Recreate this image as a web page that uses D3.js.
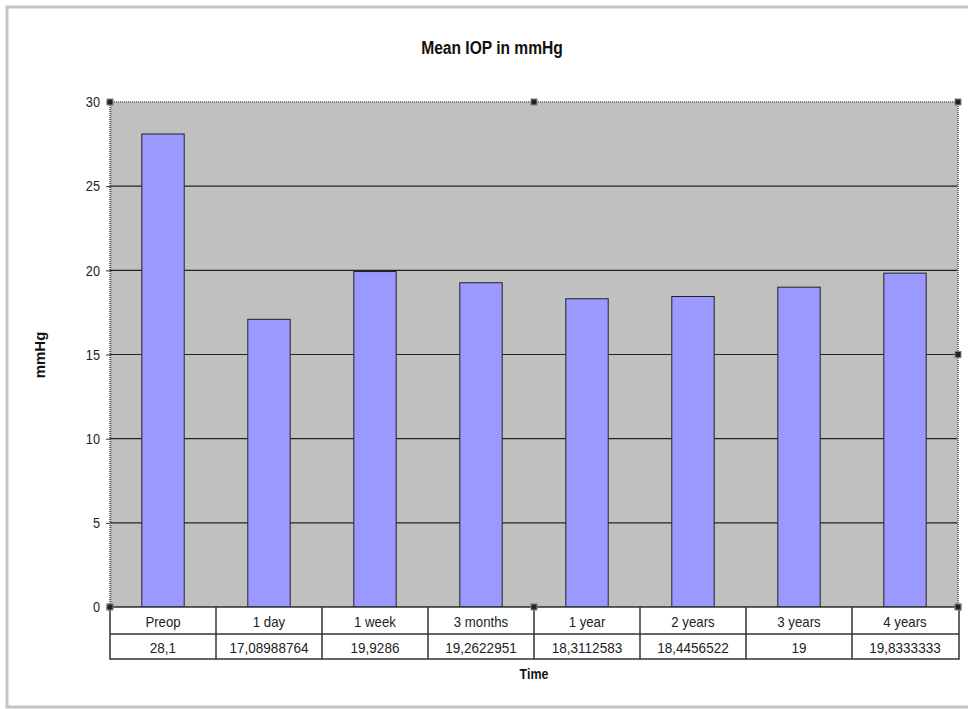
<!DOCTYPE html>
<html><head><meta charset="utf-8">
<script src="https://cdn.jsdelivr.net/npm/d3@7"></script>
<style>body{margin:0;background:#fff}svg{display:block}</style>
</head><body>
<svg id="c" width="968" height="709"></svg>
<script>
const categories = ["Preop","1 day","1 week","3 months","1 year","2 years","3 years","4 years"];
const values = [28.1, 17.08988764, 19.9286, 19.2622951, 18.3112583, 18.4456522, 19, 19.8333333];
const valueLabels = ["28,1","17,08988764","19,9286","19,2622951","18,3112583","18,4456522","19","19,8333333"];
const yTicks = [0,5,10,15,20,25,30];
const title = "Mean IOP in mmHg";
const yTitle = "mmHg";
const xTitle = "Time";

const svg = d3.select("#c");
const font = "'Liberation Sans', Arial, sans-serif";
const L = 110, R = 958, T = 102, B = 607;

function condense(sel, k) {
  sel.each(function() {
    const w = this.getComputedTextLength();
    d3.select(this).attr("textLength", w * k).attr("lengthAdjust", "spacingAndGlyphs");
  });
}

// outer frame
svg.append("path").attr("d","M968,7 H7 V707 H968")
  .attr("fill","none").attr("stroke","#c4c4c4").attr("stroke-width",3);

const x = d3.scaleBand().domain(categories).range([L,R]).paddingInner(0.6).paddingOuter(0.3);
const xc = d3.scaleBand().domain(categories).range([L,R]);
const y = d3.scaleLinear().domain([0,30]).range([B,T]);

svg.append("rect").attr("x",L).attr("y",T).attr("width",R-L).attr("height",B-T).attr("fill","#c0c0c0");

// gridlines
svg.append("g").selectAll("line").data(yTicks.filter(d=>d>0 && d<30)).join("line")
  .attr("x1",L).attr("x2",R).attr("y1",d=>y(d)).attr("y2",d=>y(d))
  .attr("stroke","#222").attr("stroke-width",1.2);

// plot border (dotted selection style)
svg.append("rect").attr("x",L).attr("y",T).attr("width",R-L).attr("height",B-T)
  .attr("fill","none").attr("stroke","#777").attr("stroke-width",2).attr("stroke-dasharray","1,1");

// bars
svg.append("g").selectAll("rect").data(values).join("rect")
  .attr("x",(d,i)=>x(categories[i])).attr("width",x.bandwidth())
  .attr("y",d=>y(d)).attr("height",d=>B-y(d))
  .attr("fill","#9999ff").attr("stroke","#222").attr("stroke-width",1);

// y axis
const yAxis = d3.axisLeft(y).tickValues(yTicks).tickSize(4).tickPadding(6);
const ga = svg.append("g").attr("transform",`translate(${L},0)`).call(yAxis);
ga.select(".domain").attr("stroke","#666").attr("stroke-dasharray","1,1").attr("stroke-width",2);
ga.selectAll(".tick line").attr("stroke","#333");
ga.selectAll("text").attr("font-family",font).attr("font-size",15).attr("fill","#222").call(condense,0.85);

// selection handles
const handles = [[L,T],[(L+R)/2,T],[R,T],[R,y(15)],[R,B],[(L+R)/2,B],[L,B]];
svg.append("g").selectAll("rect").data(handles).join("rect")
  .attr("x",d=>d[0]-3).attr("y",d=>d[1]-3).attr("width",6).attr("height",6)
  .attr("fill","#222").attr("stroke","#888").attr("stroke-width",1);

// data table
const r1 = B, r2 = 634, r3 = 659;
const tbl = svg.append("g");
tbl.append("rect").attr("x",L).attr("y",r1).attr("width",R-L+1).attr("height",r3-r1)
  .attr("fill","#fff").attr("stroke","#333").attr("stroke-width",1.5);
tbl.append("line").attr("x1",L).attr("x2",R+1).attr("y1",r2).attr("y2",r2).attr("stroke","#333").attr("stroke-width",1.5);
tbl.selectAll("line.v").data(categories.slice(1)).join("line").attr("class","v")
  .attr("x1",d=>xc(d)).attr("x2",d=>xc(d)).attr("y1",r1).attr("y2",r3)
  .attr("stroke","#333").attr("stroke-width",1.5);
tbl.selectAll("text.c").data(categories).join("text").attr("class","c")
  .attr("x",d=>xc(d)+xc.bandwidth()/2).attr("y",(r1+r2)/2+1).attr("dy","0.35em")
  .attr("text-anchor","middle").attr("font-family",font).attr("font-size",15).attr("fill","#222").text(d=>d)
  .call(condense,0.88);
tbl.selectAll("text.v").data(valueLabels).join("text").attr("class","v")
  .attr("x",(d,i)=>xc(categories[i])+xc.bandwidth()/2).attr("y",(r2+r3)/2+1).attr("dy","0.35em")
  .attr("text-anchor","middle").attr("font-family",font).attr("font-size",15).attr("fill","#222").text(d=>d)
  .call(condense,0.9);

// re-draw handles on bottom edge over table
svg.append("g").selectAll("rect").data(handles.filter(h=>h[1]===B)).join("rect")
  .attr("x",d=>d[0]-3).attr("y",d=>d[1]-3).attr("width",6).attr("height",6)
  .attr("fill","#222").attr("stroke","#888").attr("stroke-width",1);

// titles
svg.append("text").attr("x",492).attr("y",54).attr("text-anchor","middle")
  .attr("font-family",font).attr("font-weight","bold").attr("font-size",18).attr("fill","#111").text(title)
  .call(condense,0.865);
svg.append("text").attr("transform","translate(45,355) rotate(-90)").attr("text-anchor","middle")
  .attr("font-family",font).attr("font-weight","bold").attr("font-size",15).attr("fill","#111").text(yTitle);
svg.append("text").attr("x",534).attr("y",679).attr("text-anchor","middle")
  .attr("font-family",font).attr("font-weight","bold").attr("font-size",15).attr("fill","#111").text(xTitle)
  .call(condense,0.83);
</script>
</body></html>
